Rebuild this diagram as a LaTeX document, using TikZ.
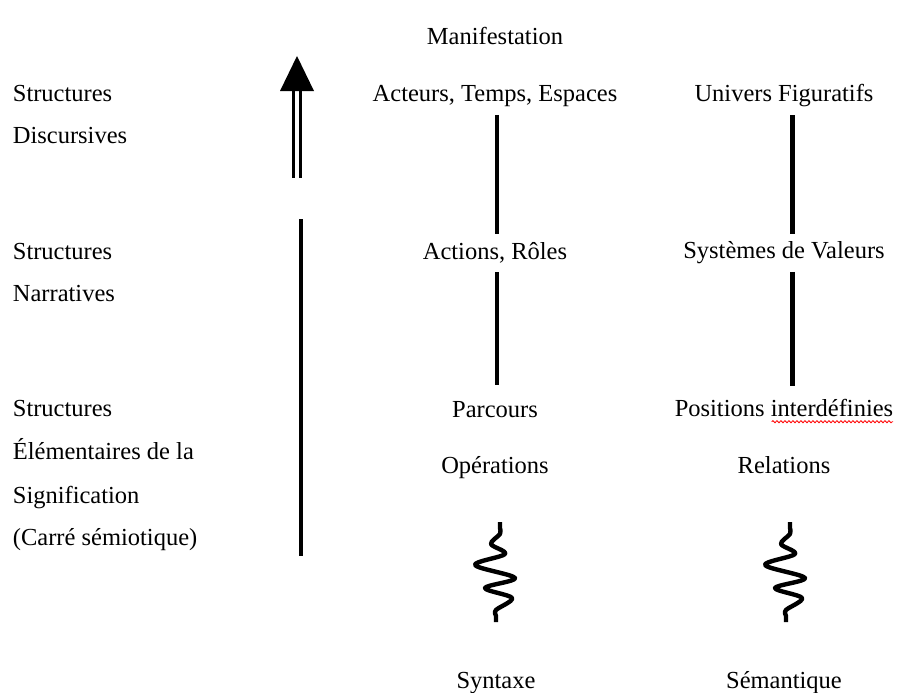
\documentclass[tikz,border=0pt]{standalone}
\usepackage{fontspec}
\setmainfont{Liberation Serif}
\usetikzlibrary{decorations.pathmorphing}
\begin{document}
\begin{tikzpicture}[x=1pt,y=-1pt,
  lbl/.style={inner sep=0pt, text height=17pt, text depth=5pt, font=\fontsize{24.5}{29}\selectfont},
  mid/.style={lbl, anchor=base},
  side/.style={lbl, anchor=base west},
  vline/.style={line width=4.4pt},
  twin/.style={line width=3.3pt},
  wave/.style={line width=4.4pt, line join=round},
  spell/.style={red, line width=0.8pt, decorate, decoration={snake, amplitude=1.1pt, segment length=4pt}},
  squig/.pic={\draw[wave] plot[smooth, tension=0.55] coordinates{(0,0) (0,6) (0,12) (-9,22) (5,32) (-25,43) (15,56) (-15,66) (12,76) (-4,88) (-4,94) (-4,100)};}]
\useasboundingbox (0,0) rectangle (897,693);

% left column
\node[side] (s1a) at (12.7,101.7) {Structures};
\node[side] (s1b) at (12.7,143.3) {Discursives};
\node[side] (s2a) at (12.7,259.3) {Structures};
\node[side] (s2b) at (12.7,301) {Narratives};
\node[side] (s3a) at (12.7,416.5) {Structures};
\node[side] (s3b) at (12.7,459.3) {Élémentaires de la};
\node[side] (s3c) at (12.7,503) {Signification};
\node[side] (s3d) at (12.7,545) {(Carré sémiotique)};

% middle column
\node[mid] (manif) at (495,44.3) {Manifestation};
\node[mid] (acteurs) at (495,101.7) {Acteurs, Temps, Espaces};
\node[mid] (actions) at (495,259) {Actions, Rôles};
\node[mid] (parcours) at (495,417) {Parcours};
\node[mid] (operations) at (495,473) {Opérations};
\node[mid] (syntaxe) at (496,688) {Syntaxe};

% right column
\node[mid] (univers) at (784,101) {Univers Figuratifs};
\node[mid] (systemes) at (784,258.3) {Systèmes de Valeurs};
\node[mid] (positions) at (784,416.7) {Positions interdéfinies};
\node[mid] (relations) at (784,473) {Relations};
\node[mid] (semantique) at (784,688) {Sémantique};

% spell-check underline
\draw[spell] (771.7,421.7) -- (893,421.7);

% vertical connectors
\coordinate (cL) at (496.7,0);
\coordinate (cR) at (792.3,0);
\draw[vline, shorten <=8pt, shorten >=8pt] (acteurs.south -| cL) -- (actions.north -| cL);
\draw[vline, shorten <=8pt, shorten >=15pt] (actions.south -| cL) -- (parcours.north -| cL);
\draw[vline, shorten <=9pt, shorten >=7pt] (univers.south -| cR) -- (systemes.north -| cR);
\draw[vline, shorten <=8.4pt, shorten >=14pt] (systemes.south -| cR) -- (positions.north -| cR);

% squiggles
\pic (sqL) at (500,522) {squig};
\pic (sqR) at (790,522) {squig};

% big arrow
\coordinate (tip) at (297,56);
\fill (280,91) -- (tip) -- (314,91) -- cycle;
\draw[twin] (293.3,89) -- (293.3,178);
\draw[twin] (300.7,89) -- (300.7,178);
\draw[line width=4pt] (301.3,219) -- (301.3,556);
\end{tikzpicture}
\end{document}
